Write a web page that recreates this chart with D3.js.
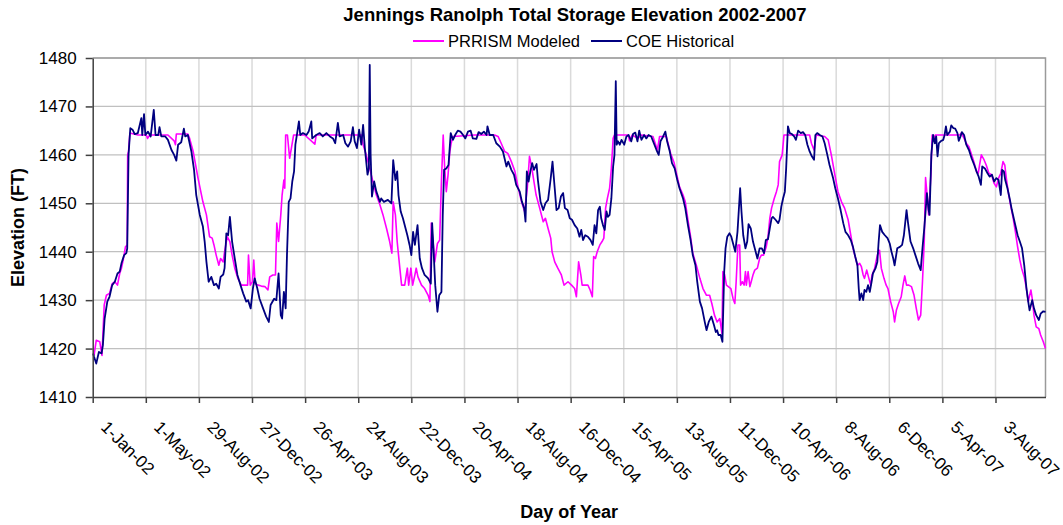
<!DOCTYPE html>
<meta charset="utf-8">
<style>
	body { margin: 0; background: #fff; }
	text { font-family: "Liberation Sans", Arial, sans-serif; fill: #000; }
</style>
<svg width="1063" height="525"></svg>
<script src="https://d3js.org/d3.v7.min.js"></script>
<script>
	// x tick labels (every 120 days)
	var tickLabels = ['1-Jan-02', '1-May-02', '29-Aug-02', '27-Dec-02', '26-Apr-03', '24-Aug-03',
		'22-Dec-03', '20-Apr-04', '18-Aug-04', '16-Dec-04', '15-Apr-05', '13-Aug-05',
		'11-Dec-05', '10-Apr-06', '8-Aug-06', '6-Dec-06', '5-Apr-07', '3-Aug-07']
	var yTicks = [1410, 1420, 1430, 1440, 1450, 1460, 1470, 1480]

	// [day since 1-Jan-02, elevation ft]
	var modeled = [[3,1418.6],[8,1421.7],[16,1421.4],[21,1418.6],[26,1429.0],[31,1431.0],[38,1431.4],[44,1433.4],[50,1433.8],[56,1433.1],[61,1435.5],[65,1436.6],[69,1438.3],[74,1441.0],[78,1441.4],[79,1460.0],[81,1460.7],[84,1464.5],[102,1464.1],[121,1464.1],[124,1463.4],[129,1464.1],[170,1464.1],[184,1462.9],[187,1462.1],[189,1464.3],[215,1464.3],[219,1463.4],[227,1460.7],[238,1455.2],[249,1450.3],[257,1447.6],[264,1443.1],[270,1442.8],[274,1441.4],[279,1439.3],[285,1437.2],[289,1438.6],[295,1437.9],[298,1440.0],[304,1443.1],[310,1442.1],[315,1439.3],[321,1436.6],[328,1434.5],[336,1433.1],[344,1433.1],[350,1433.1],[352,1439.3],[356,1433.1],[361,1433.8],[364,1438.3],[367,1433.4],[374,1433.1],[381,1432.9],[389,1432.8],[396,1432.1],[400,1434.8],[407,1435.2],[413,1435.2],[416,1445.9],[420,1442.1],[425,1447.6],[428,1451.7],[432,1454.8],[434,1453.1],[436,1464.1],[440,1464.1],[445,1459.3],[449,1461.4],[454,1464.1],[479,1464.1],[502,1462.2],[505,1464.1],[547,1464.1],[577,1464.1],[607,1464.1],[611,1462.1],[618,1460.0],[626,1457.2],[633,1454.5],[641,1451.7],[649,1449.7],[656,1447.6],[664,1444.8],[671,1442.1],[676,1439.7],[679,1450.3],[684,1447.6],[688,1442.1],[694,1436.6],[698,1433.1],[705,1433.1],[711,1436.6],[714,1433.1],[719,1436.6],[723,1433.1],[728,1435.2],[731,1436.6],[735,1434.8],[743,1433.1],[750,1432.4],[758,1431.0],[762,1429.7],[765,1445.9],[769,1442.1],[773,1437.9],[779,1441.7],[784,1442.4],[788,1454.5],[792,1464.1],[795,1457.9],[799,1452.4],[803,1455.9],[807,1460.7],[810,1462.4],[814,1463.8],[863,1464.1],[908,1464.1],[916,1463.8],[923,1462.4],[931,1460.7],[938,1460.3],[946,1458.6],[954,1456.6],[961,1453.4],[969,1450.3],[976,1448.3],[982,1453.1],[987,1459.7],[993,1456.9],[997,1454.5],[1002,1451.7],[1010,1449.0],[1018,1446.2],[1023,1446.9],[1029,1444.8],[1035,1442.8],[1038,1440.0],[1044,1437.9],[1051,1436.6],[1059,1435.2],[1065,1433.1],[1074,1433.8],[1082,1433.1],[1089,1432.4],[1093,1430.7],[1098,1437.9],[1103,1435.2],[1106,1433.1],[1119,1433.1],[1124,1432.1],[1129,1430.7],[1132,1439.0],[1136,1438.6],[1140,1440.0],[1146,1441.4],[1151,1442.1],[1155,1442.8],[1159,1449.0],[1163,1451.0],[1168,1453.1],[1172,1457.2],[1176,1463.4],[1179,1464.1],[1210,1464.1],[1213,1462.9],[1219,1464.1],[1232,1463.4],[1240,1464.1],[1266,1463.8],[1271,1462.4],[1276,1461.0],[1281,1463.8],[1296,1463.8],[1300,1462.4],[1306,1460.3],[1314,1458.3],[1319,1456.2],[1326,1453.4],[1334,1451.7],[1339,1450.3],[1345,1446.6],[1351,1443.1],[1356,1439.7],[1364,1437.2],[1372,1434.5],[1379,1432.4],[1387,1431.0],[1394,1431.0],[1399,1429.3],[1405,1426.9],[1411,1425.5],[1417,1426.2],[1422,1423.1],[1424,1435.9],[1428,1435.2],[1432,1433.1],[1442,1432.4],[1447,1430.3],[1451,1429.3],[1454,1433.8],[1458,1441.4],[1462,1441.4],[1464,1433.1],[1468,1433.8],[1472,1433.1],[1475,1435.9],[1477,1433.1],[1481,1435.9],[1485,1432.8],[1488,1433.8],[1492,1435.2],[1496,1436.2],[1502,1436.6],[1507,1438.6],[1511,1439.3],[1516,1439.3],[1522,1441.0],[1526,1443.1],[1530,1446.9],[1534,1449.0],[1540,1451.0],[1545,1452.4],[1549,1453.8],[1552,1458.6],[1558,1460.0],[1562,1464.1],[1620,1464.1],[1624,1462.4],[1630,1461.0],[1635,1464.1],[1654,1463.8],[1662,1463.1],[1669,1460.0],[1677,1455.9],[1684,1452.4],[1692,1450.3],[1699,1449.0],[1707,1446.6],[1713,1443.4],[1718,1440.7],[1722,1439.3],[1728,1437.2],[1733,1437.6],[1737,1436.9],[1741,1435.2],[1744,1434.5],[1749,1436.2],[1753,1434.8],[1758,1433.1],[1761,1435.2],[1767,1436.6],[1773,1439.3],[1778,1440.3],[1782,1436.6],[1788,1434.5],[1793,1433.1],[1797,1432.4],[1803,1429.7],[1809,1427.6],[1812,1425.5],[1816,1427.9],[1821,1429.3],[1827,1430.7],[1831,1433.1],[1835,1435.0],[1839,1433.1],[1844,1433.1],[1850,1432.8],[1856,1431.0],[1861,1428.3],[1866,1425.9],[1871,1426.9],[1875,1433.8],[1879,1442.1],[1882,1455.3],[1886,1451.0],[1889,1447.6],[1894,1455.9],[1897,1464.1],[1900,1462.8],[1904,1464.1],[1959,1464.1],[1963,1464.5],[1969,1463.4],[1974,1462.4],[1980,1461.7],[1986,1460.0],[1992,1458.3],[1997,1456.6],[2001,1456.2],[2004,1457.9],[2008,1460.0],[2014,1459.0],[2019,1457.9],[2025,1456.2],[2031,1455.9],[2037,1454.1],[2042,1453.4],[2047,1455.2],[2052,1456.2],[2057,1458.6],[2061,1457.9],[2065,1454.8],[2070,1451.7],[2074,1449.7],[2080,1446.9],[2085,1444.1],[2090,1441.0],[2095,1438.3],[2099,1436.6],[2105,1434.8],[2110,1432.4],[2114,1429.7],[2120,1432.1],[2123,1430.3],[2127,1426.9],[2132,1424.5],[2138,1424.1],[2142,1422.8],[2148,1421.4],[2153,1420.0]]

	var historical = [[1,1419.0],[3,1418.3],[8,1416.9],[14,1419.3],[20,1419.0],[23,1420.7],[27,1426.2],[33,1429.7],[38,1430.7],[44,1433.1],[50,1433.8],[56,1435.5],[61,1435.9],[65,1437.6],[71,1439.3],[76,1439.7],[78,1440.7],[81,1460.0],[85,1465.5],[90,1465.2],[95,1464.3],[102,1464.5],[110,1467.6],[112,1464.1],[116,1468.4],[119,1464.1],[125,1464.8],[131,1463.8],[138,1469.3],[142,1464.1],[148,1464.1],[151,1465.7],[155,1463.8],[164,1463.8],[170,1463.1],[178,1461.0],[184,1460.0],[189,1458.8],[193,1462.1],[200,1462.6],[206,1465.4],[209,1463.8],[215,1464.1],[223,1460.7],[229,1456.9],[234,1451.7],[242,1447.6],[249,1445.2],[253,1442.1],[257,1437.9],[262,1433.8],[268,1434.8],[274,1433.1],[279,1433.4],[285,1432.4],[289,1434.8],[295,1435.3],[298,1436.6],[302,1443.8],[306,1443.4],[310,1447.2],[315,1442.1],[321,1438.6],[327,1435.2],[334,1433.1],[340,1431.4],[347,1429.7],[351,1430.0],[357,1428.3],[362,1432.4],[366,1434.5],[372,1432.4],[377,1430.3],[385,1428.3],[392,1426.6],[398,1425.5],[402,1429.0],[410,1430.3],[415,1430.0],[420,1435.5],[425,1426.9],[428,1426.2],[432,1431.7],[436,1428.3],[439,1439.3],[443,1450.3],[447,1451.0],[451,1454.5],[455,1456.6],[458,1462.1],[462,1464.5],[466,1466.9],[469,1464.1],[475,1464.5],[483,1464.1],[488,1464.8],[494,1466.9],[496,1463.4],[505,1464.1],[513,1464.5],[520,1463.8],[528,1464.5],[536,1463.8],[543,1463.4],[548,1462.4],[554,1466.6],[558,1463.8],[566,1464.1],[571,1462.4],[577,1461.7],[583,1462.8],[588,1465.7],[592,1462.8],[597,1461.4],[602,1465.2],[607,1462.1],[611,1466.2],[615,1461.4],[621,1455.9],[624,1457.2],[626,1478.6],[628,1460.0],[631,1451.4],[636,1454.5],[641,1452.4],[649,1450.3],[652,1451.0],[658,1450.3],[667,1450.7],[675,1450.0],[679,1458.9],[684,1454.8],[688,1456.6],[691,1451.7],[696,1448.3],[701,1446.9],[707,1444.8],[711,1443.4],[716,1441.4],[720,1439.3],[724,1444.1],[728,1441.4],[734,1445.5],[739,1438.6],[744,1436.6],[750,1435.2],[758,1434.5],[764,1433.4],[767,1445.9],[770,1440.7],[774,1433.1],[779,1427.6],[783,1431.0],[788,1431.7],[791,1447.6],[794,1456.9],[799,1457.2],[804,1457.9],[809,1464.5],[814,1463.1],[819,1464.1],[825,1465.0],[831,1464.8],[837,1464.1],[842,1463.4],[848,1464.8],[854,1465.0],[859,1463.4],[867,1463.3],[872,1464.7],[878,1464.3],[884,1464.8],[890,1464.1],[892,1465.9],[897,1464.1],[905,1464.1],[912,1462.4],[920,1461.7],[927,1460.7],[935,1457.6],[939,1458.6],[946,1456.9],[952,1455.9],[957,1453.8],[965,1452.4],[970,1450.3],[975,1449.0],[978,1446.2],[981,1456.6],[985,1454.5],[989,1456.6],[993,1458.3],[997,1456.9],[1003,1458.1],[1006,1454.8],[1012,1450.3],[1018,1448.6],[1023,1450.0],[1029,1450.7],[1035,1455.2],[1039,1458.6],[1044,1453.1],[1048,1448.6],[1053,1449.0],[1058,1451.4],[1063,1452.1],[1067,1449.0],[1073,1448.6],[1078,1446.9],[1083,1446.6],[1089,1445.5],[1095,1444.8],[1100,1443.1],[1104,1444.5],[1108,1442.4],[1113,1443.4],[1119,1443.1],[1125,1442.4],[1130,1441.4],[1134,1445.5],[1138,1443.8],[1142,1448.6],[1146,1449.3],[1149,1446.9],[1153,1445.5],[1157,1444.5],[1161,1448.3],[1164,1447.2],[1168,1447.6],[1172,1451.0],[1176,1457.6],[1179,1460.0],[1182,1475.2],[1184,1462.1],[1187,1462.8],[1191,1462.1],[1195,1463.1],[1201,1462.1],[1206,1463.8],[1211,1464.1],[1217,1462.8],[1221,1464.3],[1226,1464.6],[1231,1462.8],[1235,1465.0],[1240,1463.1],[1246,1464.1],[1251,1463.4],[1256,1464.1],[1262,1463.8],[1268,1462.4],[1274,1461.0],[1279,1460.0],[1283,1462.8],[1289,1463.8],[1294,1464.8],[1298,1462.8],[1304,1460.7],[1309,1458.3],[1315,1457.2],[1321,1454.8],[1326,1453.1],[1334,1451.0],[1339,1449.0],[1345,1445.5],[1351,1442.4],[1356,1439.3],[1362,1437.2],[1366,1433.8],[1372,1429.7],[1377,1428.3],[1383,1425.5],[1387,1423.8],[1392,1425.5],[1398,1426.6],[1404,1424.8],[1408,1423.4],[1411,1423.8],[1414,1422.8],[1419,1422.8],[1423,1421.4],[1427,1435.9],[1430,1440.7],[1434,1443.1],[1439,1443.8],[1443,1443.1],[1447,1441.7],[1452,1440.0],[1457,1444.1],[1460,1448.6],[1463,1453.1],[1466,1448.3],[1470,1443.4],[1475,1440.7],[1479,1442.1],[1482,1445.7],[1487,1444.8],[1492,1442.1],[1496,1440.7],[1502,1438.6],[1507,1440.7],[1512,1440.7],[1517,1439.7],[1521,1442.4],[1526,1442.6],[1530,1444.8],[1534,1446.9],[1537,1447.2],[1543,1446.6],[1549,1445.9],[1552,1446.6],[1556,1449.3],[1560,1451.0],[1564,1452.4],[1567,1457.2],[1571,1465.9],[1575,1464.5],[1580,1464.3],[1585,1463.8],[1589,1463.1],[1594,1465.0],[1600,1464.5],[1605,1464.7],[1610,1464.1],[1615,1462.1],[1620,1460.7],[1625,1459.7],[1630,1459.0],[1633,1464.1],[1637,1464.5],[1643,1464.1],[1649,1463.8],[1654,1462.4],[1660,1460.0],[1665,1457.9],[1673,1455.2],[1678,1453.1],[1684,1451.0],[1690,1448.6],[1696,1445.9],[1701,1444.1],[1707,1443.4],[1713,1442.4],[1718,1441.0],[1723,1439.0],[1728,1437.2],[1731,1432.4],[1733,1430.0],[1737,1431.4],[1741,1430.0],[1744,1432.1],[1748,1431.7],[1752,1433.1],[1756,1431.7],[1760,1433.8],[1763,1435.5],[1769,1436.6],[1773,1437.9],[1776,1442.1],[1779,1445.5],[1784,1444.1],[1790,1443.4],[1796,1442.8],[1801,1441.7],[1805,1440.0],[1809,1438.6],[1812,1437.2],[1818,1440.7],[1824,1441.0],[1829,1441.4],[1833,1443.4],[1839,1448.6],[1842,1446.2],[1848,1442.1],[1854,1440.7],[1859,1439.3],[1865,1437.6],[1871,1436.2],[1875,1440.7],[1879,1444.8],[1882,1448.3],[1885,1452.1],[1889,1448.6],[1891,1447.6],[1895,1460.0],[1899,1464.1],[1903,1462.4],[1906,1463.8],[1909,1459.7],[1912,1462.4],[1916,1462.8],[1922,1463.1],[1925,1464.1],[1928,1465.9],[1931,1464.1],[1937,1464.8],[1940,1466.1],[1945,1465.5],[1949,1465.4],[1954,1464.5],[1957,1462.9],[1961,1463.8],[1964,1464.7],[1969,1464.1],[1974,1462.1],[1980,1461.0],[1986,1459.3],[1992,1457.9],[1997,1456.6],[2002,1455.5],[2007,1453.8],[2010,1457.6],[2016,1457.2],[2022,1456.2],[2027,1455.5],[2032,1455.9],[2037,1454.5],[2042,1455.2],[2047,1454.8],[2052,1451.7],[2055,1456.9],[2059,1456.6],[2062,1454.8],[2067,1453.1],[2072,1451.0],[2077,1448.6],[2083,1446.2],[2090,1443.4],[2095,1442.1],[2100,1440.7],[2105,1437.2],[2110,1432.4],[2114,1429.7],[2117,1427.9],[2123,1430.0],[2127,1428.3],[2132,1426.9],[2138,1425.9],[2142,1427.2],[2148,1427.7],[2153,1427.6]]

	var series = [
		{ name: 'PRRISM Modeled', color: '#ff00ff', width: 1.6, values: modeled },
		{ name: 'COE Historical', color: '#000080', width: 1.8, values: historical }
	]

	var svg = d3.select('svg'),
		margin = { top: 58, right: 17.5, bottom: 128, left: 92.7 },
		width = +svg.attr('width') - margin.left - margin.right,
		height = +svg.attr('height') - margin.top - margin.bottom,
		g = svg.append('g').attr('transform', 'translate(' + margin.left + ',' + margin.top + ')')

	var parse = d3.utcParse('%d-%b-%y'),
		start = parse(tickLabels[0]),
		lastDay = d3.max(series, s => d3.max(s.values, d => d[0]))

	var x = d3.scaleUtc().domain([start, d3.utcDay.offset(start, lastDay)]).range([0, width]),
		y = d3.scaleLinear().domain([yTicks[0], yTicks[yTicks.length - 1]]).range([height, 0])

	var tickDates = tickLabels.map(parse)

	// grid
	g.append('g').selectAll('line')
		.data(tickDates.slice(1))
		.enter().append('line')
		.attr('x1', d => x(d)).attr('x2', d => x(d))
		.attr('y1', 0).attr('y2', height)
		.attr('stroke', '#dadada').attr('stroke-width', 1.5)
	g.append('g').selectAll('line')
		.data(yTicks.slice(1))
		.enter().append('line')
		.attr('x1', 0).attr('x2', width)
		.attr('y1', d => y(d)).attr('y2', d => y(d))
		.attr('stroke', '#c0c0c0').attr('stroke-width', 1.2)

	// plot frame (top/right)
	g.append('path')
		.attr('d', 'M0,0H' + width + 'V' + height)
		.attr('fill', 'none').attr('stroke', '#9a9a9a').attr('stroke-width', 1.5)

	// lines
	var line = d3.line()
		.x(d => x(d3.utcDay.offset(start, d[0])))
		.y(d => y(d[1]))

	g.selectAll('.series')
		.data(series)
		.enter().append('path')
		.attr('class', 'series')
		.attr('fill', 'none')
		.attr('stroke', d => d.color)
		.attr('stroke-width', d => d.width)
		.attr('stroke-linejoin', 'round')
		.attr('d', d => line(d.values))

	// axes
	var yAxis = g.append('g')
		.call(d3.axisLeft(y).tickValues(yTicks).tickSize(7).tickSizeOuter(0).tickPadding(9).tickFormat(d3.format('d')))
	var xAxis = g.append('g')
		.attr('transform', 'translate(0,' + height + ')')
		.call(d3.axisBottom(x).tickValues(tickDates).tickSize(6).tickSizeOuter(0).tickFormat((d, i) => tickLabels[i]))

	svg.selectAll('.domain, .tick line').attr('stroke', '#404040').attr('stroke-width', 1.5)
	yAxis.selectAll('text').style('font-size', '17px').attr('fill', '#000')
	xAxis.selectAll('text')
		.style('font-size', '17px').attr('fill', '#000')
		.attr('text-anchor', 'start')
		.attr('transform', 'translate(11,27) rotate(45)')
		.attr('y', 0).attr('dy', '0.35em')

	// titles
	svg.append('text')
		.attr('x', 575).attr('y', 21)
		.attr('text-anchor', 'middle')
		.style('font-size', '18.5px').style('font-weight', 'bold')
		.text('Jennings Ranolph Total Storage Elevation 2002-2007')

	svg.append('text')
		.attr('x', margin.left + width / 2).attr('y', 518)
		.attr('text-anchor', 'middle')
		.style('font-size', '18px').style('font-weight', 'bold')
		.text('Day of Year')

	svg.append('text')
		.attr('transform', 'translate(24,' + (margin.top + height / 2) + ') rotate(-90)')
		.attr('text-anchor', 'middle')
		.style('font-size', '18px').style('font-weight', 'bold')
		.text('Elevation (FT)')

	// legend
	var legend = svg.append('g').attr('transform', 'translate(413,41)')
	var offs = [0, 178]
	series.forEach(function (s, i) {
		var lg = legend.append('g').attr('transform', 'translate(' + offs[i] + ',0)')
		lg.append('line').attr('x1', 0).attr('x2', 31).attr('y1', 0).attr('y2', 0)
			.attr('stroke', s.color).attr('stroke-width', 2)
		lg.append('text').attr('x', 35).attr('y', 6)
			.style('font-size', '16.5px')
			.text(s.name)
	})
</script>
